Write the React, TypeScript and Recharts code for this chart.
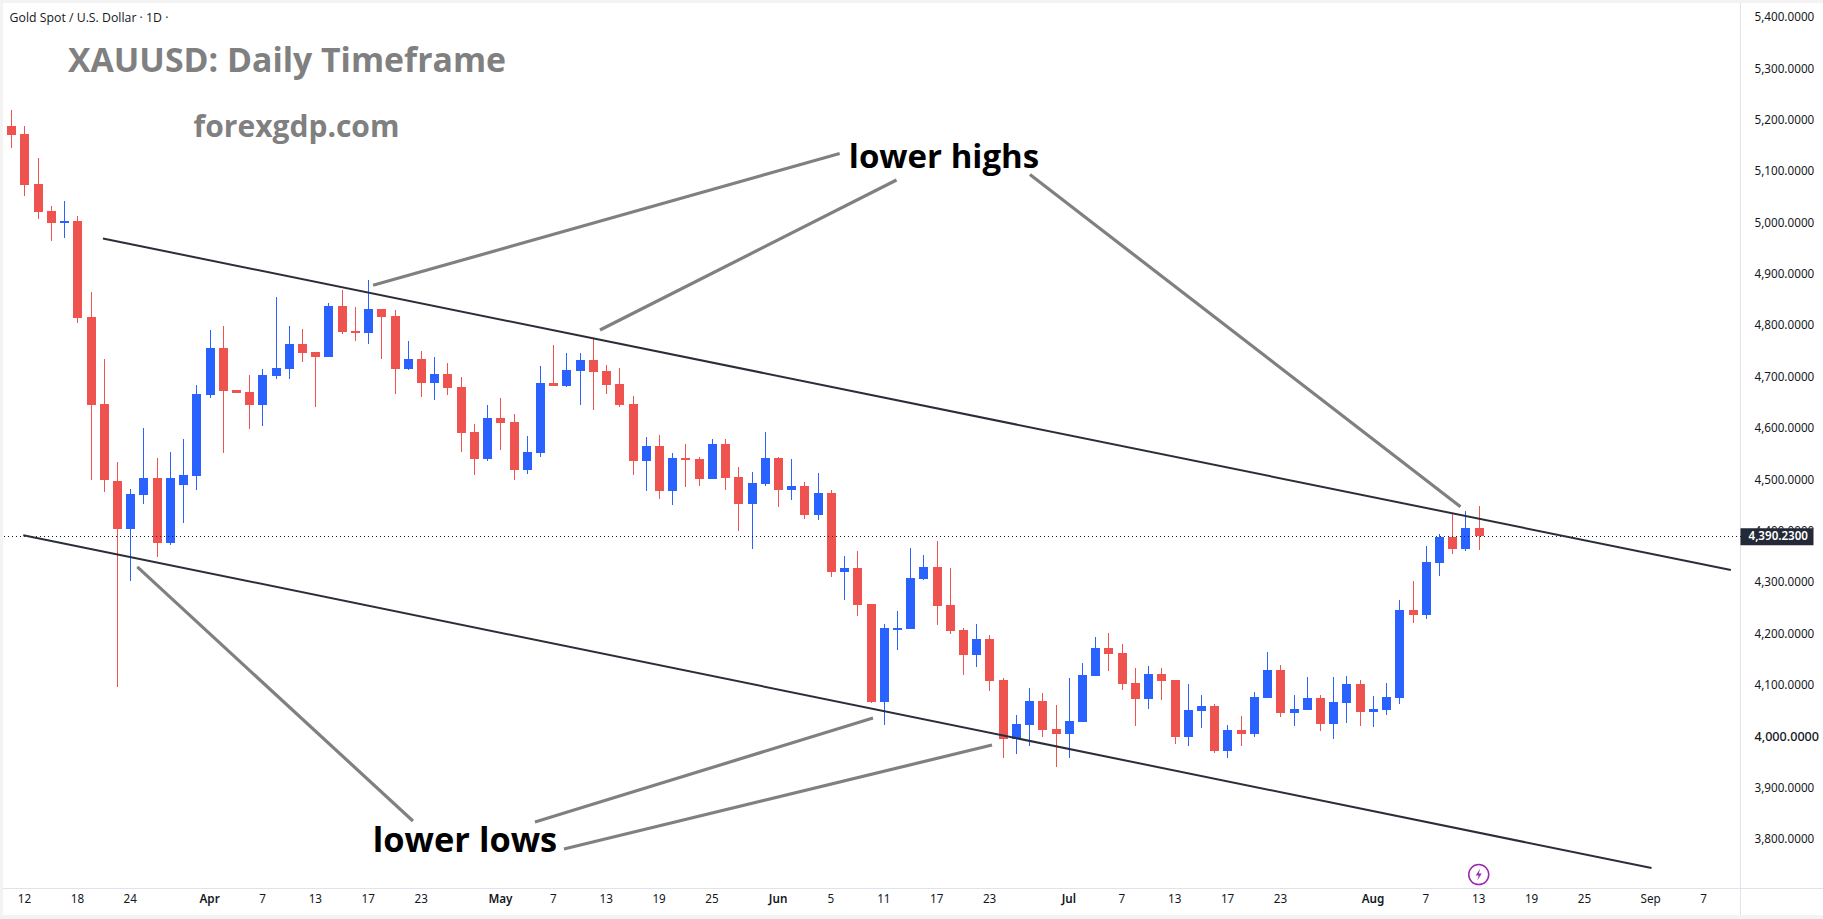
import { ComposedChart, Bar, XAxis, YAxis, ReferenceLine, ReferenceDot } from 'recharts'

const opens = [5189, 5173, 5076, 5023, 5003, 5004, 4817, 4648, 4498, 4405, 4471, 4504, 4377, 4490, 4508, 4665, 4757, 4675, 4671, 4645, 4702, 4715, 4765, 4749, 4739, 4839, 4790, 4786, 4833, 4819, 4716, 4736, 4689, 4706, 4681, 4593, 4541, 4620, 4613, 4519, 4552, 4689, 4683, 4712, 4733, 4712, 4687, 4648, 4537, 4566, 4478, 4543, 4541, 4502, 4570, 4506, 4453, 4492, 4543, 4480, 4488, 4432, 4474, 4321, 4328, 4258, 4068, 4210, 4210, 4307, 4330, 4256, 4208, 4159, 4190, 4110, 3996, 4023, 4070, 4015, 4005, 4029, 4118, 4173, 4163, 4105, 4073, 4122, 4110, 3999, 4050, 4060, 3972, 4013, 4005, 4075, 4130, 4046, 4052, 4075, 4025, 4066, 4103, 4048, 4052, 4075, 4247, 4237, 4338, 4389, 4365, 4406]
const highs = [5220, 5189, 5127, 5034, 5043, 5013, 4866, 4736, 4535, 4482, 4601, 4542, 4554, 4579, 4685, 4792, 4799, 4675, 4704, 4715, 4856, 4799, 4794, 4749, 4844, 4869, 4836, 4889, 4833, 4830, 4770, 4751, 4739, 4728, 4700, 4609, 4646, 4659, 4628, 4585, 4722, 4762, 4747, 4747, 4774, 4724, 4718, 4663, 4583, 4587, 4552, 4570, 4545, 4580, 4580, 4525, 4515, 4593, 4545, 4541, 4496, 4513, 4480, 4352, 4362, 4258, 4219, 4245, 4367, 4354, 4381, 4328, 4212, 4219, 4198, 4114, 4042, 4095, 4085, 4062, 4114, 4144, 4194, 4202, 4181, 4134, 4138, 4134, 4110, 4103, 4081, 4064, 4023, 4040, 4087, 4165, 4140, 4081, 4116, 4081, 4116, 4118, 4110, 4079, 4105, 4266, 4303, 4371, 4395, 4434, 4439, 4449]
const lows = [5146, 5053, 5008, 4965, 4971, 4806, 4500, 4476, 4097, 4303, 4453, 4350, 4373, 4416, 4480, 4659, 4553, 4669, 4599, 4605, 4696, 4696, 4729, 4642, 4739, 4784, 4770, 4765, 4736, 4667, 4713, 4662, 4655, 4666, 4554, 4510, 4537, 4558, 4500, 4511, 4545, 4683, 4681, 4646, 4636, 4667, 4642, 4510, 4478, 4463, 4451, 4486, 4488, 4502, 4480, 4400, 4365, 4488, 4447, 4461, 4424, 4422, 4311, 4266, 4235, 4066, 4023, 4169, 4210, 4305, 4218, 4200, 4120, 4136, 4089, 3959, 3966, 3982, 3999, 3941, 3959, 4029, 4118, 4128, 4091, 4021, 4054, 4071, 3986, 3982, 4017, 3968, 3959, 3982, 3999, 4075, 4038, 4021, 4052, 4011, 3996, 4027, 4021, 4019, 4042, 4064, 4221, 4229, 4313, 4356, 4362, 4363]
const closes = [5171, 5074, 5021, 5000, 5004, 4815, 4646, 4500, 4405, 4472, 4504, 4377, 4504, 4509, 4667, 4757, 4673, 4669, 4645, 4704, 4718, 4765, 4747, 4739, 4839, 4788, 4789, 4833, 4817, 4716, 4736, 4689, 4706, 4679, 4591, 4541, 4620, 4611, 4519, 4554, 4689, 4683, 4714, 4733, 4710, 4685, 4646, 4537, 4566, 4478, 4543, 4541, 4502, 4570, 4504, 4453, 4494, 4543, 4480, 4488, 4432, 4474, 4321, 4328, 4256, 4068, 4212, 4212, 4309, 4330, 4255, 4206, 4159, 4190, 4108, 3996, 4025, 4070, 4013, 4005, 4031, 4120, 4173, 4161, 4103, 4073, 4122, 4108, 3999, 4052, 4060, 3972, 4013, 4005, 4077, 4130, 4046, 4054, 4075, 4025, 4068, 4103, 4048, 4054, 4077, 4247, 4237, 4340, 4389, 4365, 4406, 4390]

const timeTicks = [1, 5, 9, 15, 19, 23, 27, 31, 37, 41, 45, 49, 53, 58, 62, 66, 70, 74, 80, 84, 88, 92, 96, 103, 107, 111, 115, 119, 124, 128]
const timeLabels = ['12', '18', '24', 'Apr', '7', '13', '17', '23', 'May', '7', '13', '19', '25', 'Jun', '5', '11', '17', '23', 'Jul', '7', '13', '17', '23', 'Aug', '7', '13', '19', '25', 'Sep', '7']
const months = ['Apr', 'May', 'Jun', 'Jul', 'Aug']
const priceTicks = [3800, 3900, 4000, 4100, 4200, 4300, 4400, 4500, 4600, 4700, 4800, 4900, 5000, 5100, 5200, 5300, 5400]

const lastPrice = 4390.23
const boltSpot = { x: 111, y: 3731.6 }

// drawn trend lines, in bar index / price
const channelLines = [
  [{ x: 6.93, y: 4969.8 }, { x: 130.07, y: 4324.5 }],
  [{ x: 0.905, y: 4392.3 }, { x: 124.07, y: 3744.4 }],
]
const pointerLines = [
  [{ x: 27.36, y: 4878.7 }, { x: 62.66, y: 5135.3 }],
  [{ x: 44.53, y: 4791.7 }, { x: 66.96, y: 5083.7 }],
  [{ x: 77.05, y: 5094.4 }, { x: 109.62, y: 4447.7 }],
  [{ x: 9.53, y: 4330.5 }, { x: 30.38, y: 3835.9 }],
  [{ x: 39.61, y: 3834 }, { x: 65.18, y: 4036.4 }],
  [{ x: 41.8, y: 3781.4 }, { x: 74.18, y: 3983.9 }],
]

const candles = opens.map((open, i) => ({
  i,
  open,
  high: highs[i],
  low: lows[i],
  close: closes[i],
}))

const UP = '#2962FF'
const DOWN = '#EF5350'
const AXIS_LINE = '#e0e3eb'
const AXIS_FONT = '"Noto Sans", sans-serif'
const NOTE_FONT = '"Open Sans", "Noto Sans", sans-serif'

function Candle(props: any) {
  const { x, y, width, height, payload } = props
  const k = height / (payload.high - payload.low)
  const top = y + (payload.high - Math.max(payload.open, payload.close)) * k
  const bottom = y + (payload.high - Math.min(payload.open, payload.close)) * k
  const color = payload.close >= payload.open ? UP : DOWN
  const cx = Math.round(x + width / 2)
  return (
    <g shapeRendering="crispEdges">
      <rect x={cx - 0.5} y={y} width={1} height={height} fill={color} />
      <rect x={cx - 4.5} y={top} width={9} height={Math.max(bottom - top, 2)} fill={color} />
    </g>
  )
}

function TimeTick({ x, y, payload }: any) {
  const label = timeLabels[timeTicks.indexOf(payload.value)]
  const strong = months.includes(label)
  return (
    <text x={x} y={y + 4} textAnchor="middle" dominantBaseline="middle" fontFamily={AXIS_FONT} fontSize={11.7}
      fontWeight={strong ? 600 : 400} fill="#131722">
      {label}
    </text>
  )
}

function PriceTick({ x, y, payload }: any) {
  const strong = payload.value === 4000
  // the last price tag hides the lower part of the 4,400 label
  const hidden = payload.value === 4400
  return (
    <g>
      {hidden && (
        <clipPath id="tagCut">
          <rect x={x} y={y - 10} width={70} height={7.5} />
        </clipPath>
      )}
      <text x={x} y={y + 0.5} textAnchor="start" dominantBaseline="middle" fontFamily={AXIS_FONT} fontSize={strong ? 12.6 : 11.7}
        fontWeight={strong ? 500 : 400} fill="#131722" clipPath={hidden ? 'url(#tagCut)' : undefined}>
        {payload.value.toLocaleString('en-US', { minimumFractionDigits: 4 })}
      </text>
    </g>
  )
}

function PriceTag({ viewBox }: any) {
  const left = viewBox.x + viewBox.width
  return (
    <g>
      <rect x={left} y={viewBox.y - 8} width={73} height={17} fill="#232936" />
      <text x={left + 8} y={viewBox.y + 0.5} dominantBaseline="middle" fontFamily={AXIS_FONT} fontSize={11.6} fontWeight={600} fill="#fff">
        {lastPrice.toLocaleString('en-US', { minimumFractionDigits: 4 })}
      </text>
    </g>
  )
}

function Bolt({ cx, cy }: any) {
  return (
    <g>
      <circle cx={cx} cy={cy} r={10} fill="#fff" stroke="#9c27b0" strokeWidth={1.5} />
      <path d={`M${cx + 1.5} ${cy - 6} L${cx - 3} ${cy + 1} L${cx} ${cy + 1} L${cx - 1.5} ${cy + 6} L${cx + 3} ${cy - 1} L${cx} ${cy - 1} Z`} fill="#9c27b0" />
    </g>
  )
}

function Note({ x, y, size, color, weight = 700, children }: any) {
  return (
    <div style={{
      position: 'absolute', left: x, top: y, transform: 'translate(-50%, -50%)', whiteSpace: 'nowrap',
      fontFamily: NOTE_FONT, fontSize: size, fontWeight: weight, color, lineHeight: 1,
    }}>
      {children}
    </div>
  )
}

export default function App() {
  return (
    <div style={{ position: 'absolute', left: 0, top: 0, width: 1823, height: 919, background: '#f3f3f3', overflow: 'hidden' }}>
      <div style={{ position: 'absolute', left: 3, top: 3, width: 1820, height: 912, background: '#fff' }} />
      <div style={{ position: 'absolute', left: 3, top: 888, width: 1820, height: 1, background: AXIS_LINE }} />
      <div style={{ position: 'absolute', left: 1740, top: 3, width: 1, height: 912, background: AXIS_LINE }} />

      <div style={{ position: 'absolute', left: 0, top: 0 }}>
        <ComposedChart width={1823} height={919} data={candles} margin={{ top: 3, right: 0, bottom: 0, left: 4 }}>
          <XAxis dataKey="i" type="number" domain={[-0.554, 130.8]} ticks={timeTicks} interval={0} height={31}
            axisLine={false} tickLine={false} tick={<TimeTick />} allowDataOverflow />
          <YAxis orientation="right" width={82.5} domain={[3705.5, 5428.3]} ticks={priceTicks} interval={0}
            axisLine={false} tickLine={false} tickMargin={8} tick={<PriceTick />} allowDataOverflow />
          <Bar dataKey={(d: any) => [d.low, d.high]} barSize={9} shape={<Candle />} isAnimationActive={false} />
          <ReferenceLine y={lastPrice} stroke="#131722" strokeWidth={1} strokeDasharray="1 3" shapeRendering="crispEdges" label={<PriceTag />} />
          {channelLines.map((segment, n) => (
            <ReferenceLine key={n} segment={segment} stroke="#2a2e39" strokeWidth={2} ifOverflow="visible" />
          ))}
          {pointerLines.map((segment, n) => (
            <ReferenceLine key={n} segment={segment} stroke="#808080" strokeWidth={3.2} ifOverflow="visible" />
          ))}
          <ReferenceDot x={boltSpot.x} y={boltSpot.y} r={10} shape={<Bolt />} />
        </ComposedChart>
      </div>

      <Note x={89} y={18} size={12.3} color="#131722" weight={400}>Gold Spot / U.S. Dollar · 1D ·</Note>
      <Note x={287} y={60} size={33.8} color="#808080">XAUUSD: Daily Timeframe</Note>
      <Note x={296.5} y={125.5} size={30} color="#808080">forexgdp.com</Note>
      <Note x={944} y={155} size={33} color="#000">lower highs</Note>
      <Note x={465} y={839} size={34.4} color="#000">lower lows</Note>
    </div>
  )
}
